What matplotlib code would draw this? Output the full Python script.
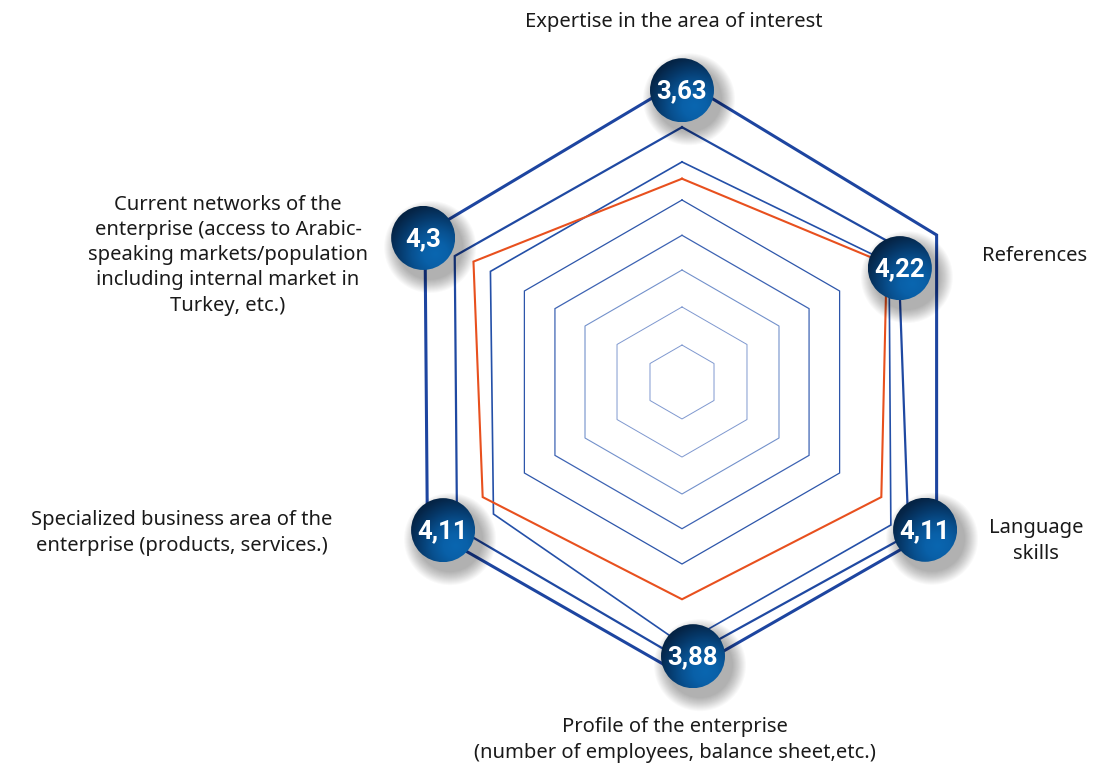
import numpy as np
import matplotlib
matplotlib.use("Agg")
import matplotlib.pyplot as plt
from matplotlib.patches import Circle
from matplotlib.colors import LinearSegmentedColormap

plt.rcParams['font.family'] = ['Noto Sans', 'DejaVu Sans']

# datos
categorias = [
    "Expertise in the area of interest",
    "References",
    "Language\nskills",
    "Profile of the enterprise\n(number of employees, balance sheet,etc.)",
    "Specialized business area of the\nenterprise (products, services.)",
    "Current networks of the\nenterprise (access to Arabic-\nspeaking markets/population\nincluding internal market in\nTurkey, etc.)",
]
valores = [3.63, 4.22, 4.11, 3.88, 4.11, 4.3]
etiquetas = ["3,63", "4,22", "4,11", "3,88", "4,11", "4,3"]

# anillos de la rejilla (radio por vertice, el dibujo original no es regular)
anillos = [
    [0.66] * 6,
    [1.34] * 6,
    [2.00] * 6,
    [2.62] * 6,
    [3.25] * 6,
    [3.93, 4.27, 4.52, 4.68, 4.11, 3.95],
    [4.55, 4.55, 4.88, 4.96, 4.79, 4.64],
    [5.39, 5.25, 5.25, 5.23, 5.25, 5.30],
]
desvio_ang = [
    [0] * 6, [0] * 6, [0] * 6, [0] * 6, [0] * 6,
    [0, 0, 4.4, 0, -5, 0],
    [0, -2, 4, 0, -3, -1],
    [0] * 6,
]
grosor = [0.7, 0.7, 0.8, 0.9, 0.9, 1.2, 1.6, 2.2]
colores = ['#7f98cf', '#7f98cf', '#7391cb', '#3d63b3', '#2d56aa', '#2450a8', '#1f49a2', '#1d45a0']

# posicion de los circulos (radio, angulo)
circ_r = [5.21, 4.39, 5.08, 4.90, 5.02, 5.29]
circ_ang = [0, 62.4, 121.3, 177.7, 238.2, 299.1]

W, H = 1109, 769
cx, cy = 682, 769 - 382
px = 56.0
rmax = 6.2
R = rmax * px

fig = plt.figure(figsize=(W / 100, H / 100), dpi=100)
ax = fig.add_axes([(cx - R) / W, (cy - R) / H, 2 * R / W, 2 * R / H], projection='polar')
ax.set_theta_zero_location('N')
ax.set_theta_direction(-1)
ax.set_ylim(0, rmax)
ax.axis('off')

base = np.arange(6) * 2 * np.pi / 6

for radios, dev, lw, col in zip(anillos, desvio_ang, grosor, colores):
    th = base + np.radians(dev)
    ax.plot(np.append(th, th[0]), radios + radios[:1], color=col, lw=lw, solid_joinstyle='miter')

ax.plot(np.append(base, base[0]), valores + valores[:1], color='#e8501e', lw=1.5,
        solid_joinstyle='miter', zorder=5)

# capa superior en pixeles para los circulos y textos
ov = fig.add_axes([0, 0, 1, 1])
ov.set_xlim(0, W)
ov.set_ylim(0, H)
ov.axis('off')

cmap = LinearSegmentedColormap.from_list('azul', ['#0a66b0', '#0960a8', '#08508f', '#063a6c', '#052649', '#041b36'])
n = 80
gx, gy = np.meshgrid(np.linspace(-1, 1, n), np.linspace(-1, 1, n))
grad = np.clip(np.hypot(gx - 0.4, gy + 0.5) / 1.9, 0, 1)

rb = 32
to_ov = ov.transData.inverted()
for lab, r, a in zip(etiquetas, circ_r, circ_ang):
    disp = ax.transData.transform((np.radians(a), r))
    x, y = to_ov.transform(disp)
    for k in range(14):
        ov.add_patch(Circle((x + 7, y - 9), rb + 14 - k, color='black', alpha=0.022, lw=0, zorder=2))
    im = ov.imshow(grad, cmap=cmap, origin='lower', extent=[x - rb, x + rb, y - rb, y + rb],
                   interpolation='bilinear', zorder=3)
    im.set_clip_path(Circle((x, y), rb, transform=ov.transData))
    ov.text(x, y - 1, lab, ha='center', va='center', color='white', fontsize=18.5,
            fontweight='bold', family=['Roboto', 'DejaVu Sans'], zorder=4)
ov.set_xlim(0, W)
ov.set_ylim(0, H)
ov.set_aspect('auto')

# etiquetas de categorias
pos_txt = [(674, 22), (1035, 256), (1036, 541), (675, 740), (182, 533), (228, 255)]
for txt, (x, y) in zip(categorias, pos_txt):
    ov.text(x, H - y, txt, ha='center', va='center', fontsize=14.5, color='#1a1a1a',
            linespacing=1.35)

plt.savefig('out.png', dpi=100)
